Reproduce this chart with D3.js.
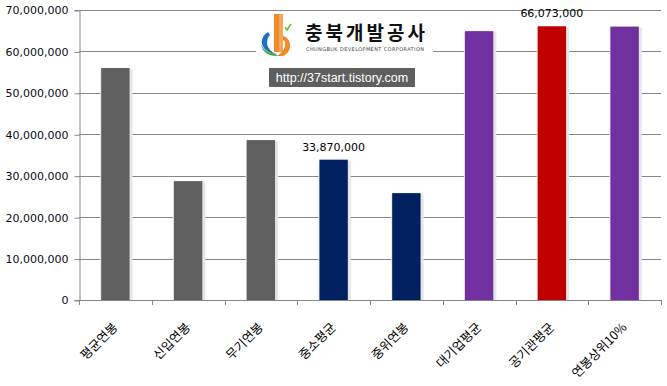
<!DOCTYPE html>
<html>
<head>
<meta charset="utf-8">
<script src="https://cdn.jsdelivr.net/npm/d3@7"></script>
<style>
  body { margin: 0; background: #fff; }
  svg { display: block; }
  .ytick text { font-family: "DejaVu Sans", Verdana, sans-serif; font-size: 11px; fill: #0a0a1a; }
  .xlab { font-family: "Noto Sans CJK KR", sans-serif; font-size: 12.5px; fill: #000; }
  .vlab { font-family: "DejaVu Sans", Verdana, sans-serif; font-size: 11px; fill: #000; }
</style>
</head>
<body>
<svg id="chart" width="667" height="386"></svg>
<script>
const categories = ["평균연봉", "신입연봉", "무기연봉", "중소평균", "중위연봉", "대기업평균", "공기관평균", "연봉상위10%"];
const salaries = [56000000, 28700000, 38600000, 33870000, 25800000, 64900000, 66073000, 66000000];
const barColors = ["#606060", "#606060", "#606060", "#002060", "#002060", "#7030a0", "#c00000", "#7030a0"];
const labelled = ["중소평균", "공기관평균"];
const yTicks = [0, 10000000, 20000000, 30000000, 40000000, 50000000, 60000000, 70000000];

const svg = d3.select("#chart");
const plotLeft = 79, plotRight = 661, plotTop = 10, plotBottom = 300;

const x = d3.scaleBand().domain(categories).range([plotLeft, plotRight]).paddingInner(0.61).paddingOuter(0.305);
const y = d3.scaleLinear().domain([0, 70000000]).range([plotBottom, plotTop]);
const fmt = d3.format(",");

// gridlines
svg.append("g").selectAll("line")
  .data(yTicks.slice(1))
  .enter().append("line")
  .attr("x1", plotLeft).attr("x2", plotRight)
  .attr("y1", d => Math.round(y(d)) + 0.5).attr("y2", d => Math.round(y(d)) + 0.5)
  .attr("stroke", "#868686").attr("stroke-width", 1);

// logo block (white backing breaks the gridline)
const logo = svg.append("g");
logo.append("rect").attr("x", 256).attr("y", 12).attr("width", 177).attr("height", 47).attr("fill", "#fff");
logo.append("path").attr("d", "M274,14 L283,14 L283,52 L274,52 Z").attr("fill", "#f08a24");
logo.append("path").attr("d", "M279,14 L283,14 L283,52 L279,52 Z").attr("fill", "#f6a65a");
logo.append("path").attr("d", "M283,36 C292,38 293,52 283,56 L276,56 C286,52 287,41 283,40 Z").attr("fill", "#f08a24");
logo.append("path").attr("d", "M268,32 C258,38 260,52 276,54 C266,50 265,40 270,35 Z").attr("fill", "#1f6fc0");
logo.append("path").attr("d", "M261,44 C262,52 268,56 277,56 L276,54 C268,53 263,50 261,44 Z").attr("fill", "#3aa84a");
logo.append("path").attr("d", "M285,27 L287,30 L291,24").attr("fill", "none").attr("stroke", "#6cbf3c").attr("stroke-width", 1.6);
logo.append("text").attr("x", 305).attr("y", 40)
  .attr("font-family", "Noto Sans CJK KR, sans-serif").attr("font-weight", "bold").attr("font-size", 19)
  .attr("textLength", 120).attr("fill", "#111").text("충북개발공사");
logo.append("text").attr("x", 306).attr("y", 51)
  .attr("font-family", "DejaVu Sans, sans-serif").attr("font-size", 5).attr("textLength", 118)
  .attr("fill", "#444").text("CHUNGBUK DEVELOPMENT CORPORATION");
logo.append("rect").attr("x", 269).attr("y", 68).attr("width", 146).attr("height", 19).attr("fill", "#5f5f5f");
logo.append("text").attr("x", 342).attr("y", 82).attr("text-anchor", "middle")
  .attr("font-family", "Liberation Sans, Arial, sans-serif").attr("font-size", 12.5)
  .attr("fill", "#fff").text("http://37start.tistory.com");

// bar shadows and bars
const bars = svg.append("g");
bars.selectAll(".shadow")
  .data(categories)
  .enter().append("rect")
  .attr("class", "shadow")
  .attr("x", d => x(d) - 1)
  .attr("y", (d, i) => y(salaries[i]) + 1)
  .attr("width", x.bandwidth() + 4)
  .attr("height", (d, i) => plotBottom - y(salaries[i]) - 1)
  .attr("fill", "#e6e6e6");
bars.selectAll(".bar")
  .data(categories)
  .enter().append("rect")
  .attr("class", "bar")
  .attr("x", d => x(d))
  .attr("y", (d, i) => y(salaries[i]))
  .attr("width", x.bandwidth())
  .attr("height", (d, i) => plotBottom - y(salaries[i]))
  .attr("fill", (d, i) => barColors[i]);

// value labels
svg.append("g").selectAll("text")
  .data(categories.filter(c => labelled.includes(c)))
  .enter().append("text")
  .attr("class", "vlab")
  .attr("x", d => x(d) + x.bandwidth() / 2)
  .attr("y", d => y(salaries[categories.indexOf(d)]) - 9)
  .attr("text-anchor", "middle")
  .text(d => fmt(salaries[categories.indexOf(d)]));

// y axis
const yAxis = svg.append("g")
  .attr("class", "ytick")
  .attr("transform", `translate(${plotLeft + 0.5},0)`)
  .call(d3.axisLeft(y).tickValues(yTicks).tickSize(5).tickPadding(6).tickFormat(fmt));
yAxis.selectAll("line, path").attr("stroke", "#868686");
yAxis.selectAll("text").attr("dy", "0.35em");
yAxis.selectAll(".tick line").attr("transform", "translate(0,0.5)");

// x axis
const xEdges = categories.map(c => x(c) - x.step() * x.paddingInner() / 2).concat([plotRight]);
const xg = svg.append("g");
xg.append("line").attr("x1", plotLeft).attr("x2", plotRight)
  .attr("y1", plotBottom + 0.5).attr("y2", plotBottom + 0.5).attr("stroke", "#868686");
xg.selectAll(".xt")
  .data(xEdges)
  .enter().append("line")
  .attr("x1", d => Math.round(d) + 0.5).attr("x2", d => Math.round(d) + 0.5)
  .attr("y1", plotBottom).attr("y2", plotBottom + 5)
  .attr("stroke", "#868686");
xg.selectAll(".xlab")
  .data(categories)
  .enter().append("text")
  .attr("class", "xlab")
  .attr("text-anchor", "end")
  .attr("transform", d => `translate(${x(d) + x.bandwidth() / 2 + 3},${plotBottom + 28}) rotate(-45)`)
  .text(d => d);
</script>
</body>
</html>
